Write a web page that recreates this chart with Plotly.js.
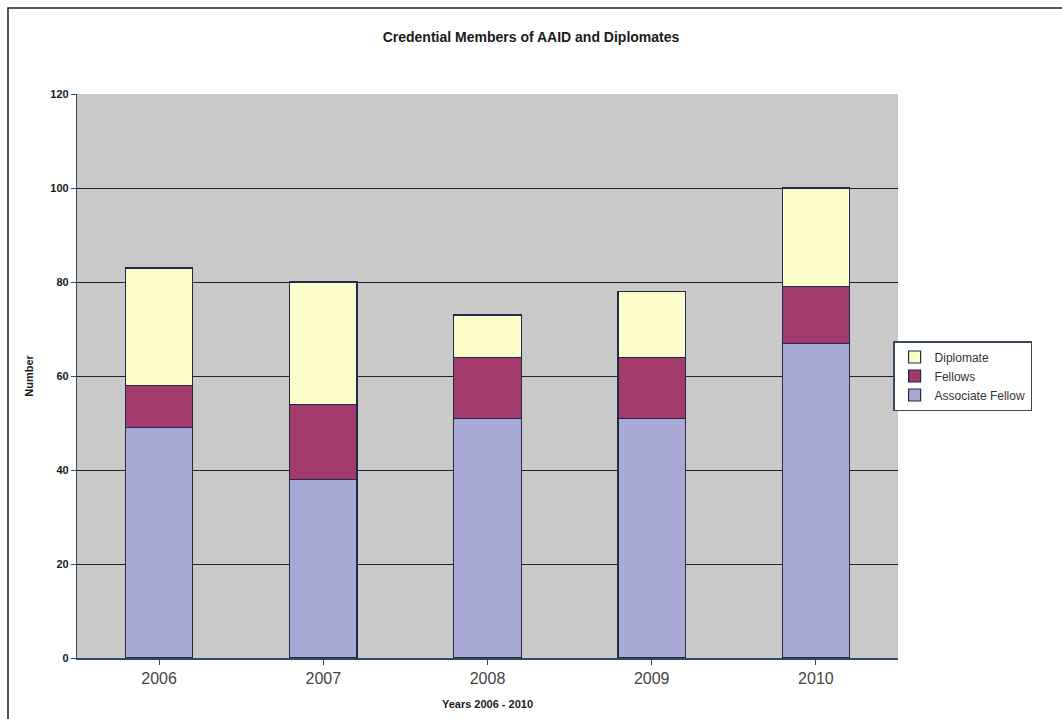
<!DOCTYPE html>
<html><head><meta charset="utf-8">
<script src="https://cdn.plot.ly/plotly-3.0.1.min.js"></script>
<style>html,body{margin:0;padding:0;background:#fff}#c{width:1062px;height:719px}</style>
</head><body><div id="c"></div>
<script>
const years = ['2006','2007','2008','2009','2010'];
const associateFellow = [49, 38, 51, 51, 67];
const fellows = [9, 16, 13, 13, 12];
const diplomate = [25, 26, 9, 14, 21];
const seriesNames = ['Associate Fellow','Fellows','Diplomate'];

const line = {color:'#1f2a44', width:1.2};
const traces = [
  {type:'bar', name:seriesNames[0], x:years, y:associateFellow, marker:{color:'#a9a9d6', line:line}},
  {type:'bar', name:seriesNames[1], x:years, y:fellows, marker:{color:'#a23a6e', line:line}},
  {type:'bar', name:seriesNames[2], x:years, y:diplomate, marker:{color:'#fdfdcb', line:line}}
];
const layout = {
  width:1062, height:719,
  margin:{l:77, r:164, t:94, b:61},
  paper_bgcolor:'#ffffff', plot_bgcolor:'#c9c9c9',
  barmode:'stack', bargap:0.59,
  title:{text:'<b>Credential Members of AAID and Diplomates</b>', x:0.5, xanchor:'center', y:0.948, yanchor:'middle',
    font:{family:'Liberation Sans, Arial', size:14, color:'#1a1a1a'}},
  xaxis:{
    tickfont:{family:'Liberation Sans, Arial', size:16, color:'#444'},
    title:{text:'<b>Years 2006 - 2010</b>', font:{family:'Liberation Sans, Arial', size:11, color:'#1a1a1a'}, standoff:14},
    showline:true, linecolor:'#3a4a5e', linewidth:1.5,
    ticks:'outside', tickson:'boundaries', ticklen:5, tickcolor:'#3a4a5e', showgrid:false
  },
  yaxis:{
    range:[0,120], dtick:20,
    tickfont:{family:'Liberation Sans, Arial', size:11, color:'#1a1a1a', weight:'bold'},
    title:{text:'<b>Number</b>', font:{family:'Liberation Sans, Arial', size:11, color:'#1a1a1a'}, standoff:14},
    showline:true, linecolor:'#3a4a5e', linewidth:1.2,
    ticks:'outside', ticklen:5, tickcolor:'#3a4a5e',
    gridcolor:'#222', gridwidth:1, zeroline:false
  },
  legend:{
    x:0.994, xanchor:'left', y:0.5, yanchor:'middle', traceorder:'reversed',
    bgcolor:'#ffffff', bordercolor:'#3a4a5e', borderwidth:1.5,
    font:{family:'Liberation Sans, Arial', size:12, color:'#333'},
    itemwidth:30, tracegroupgap:0
  },
  shapes:[
    {type:'rect', xref:'paper', yref:'paper', x0:-69/821, x1:1160/821, y0:-200/564, y1:(564+86)/564,
     line:{color:'#222', width:1.5}, fillcolor:'rgba(0,0,0,0)', layer:'below'}
  ]
};
Plotly.newPlot('c', traces, layout, {displayModeBar:false});
</script></body></html>
